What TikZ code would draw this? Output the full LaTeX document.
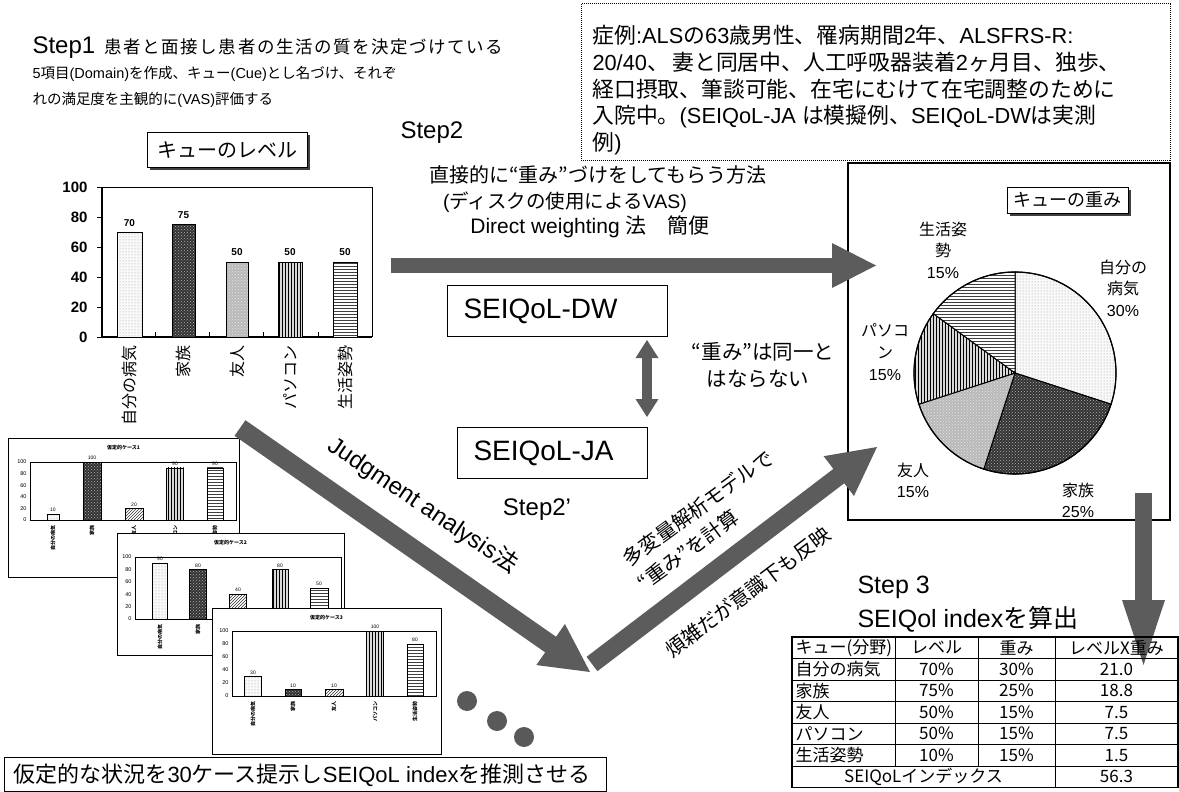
\documentclass[tikz,border=0pt]{standalone}
\usepackage{fontspec}
\setmainfont{Noto Sans CJK JP}
\newfontfamily\lat{Liberation Sans}
\newfontfamily\jpls[LetterSpace=9]{Noto Sans CJK JP}
\usetikzlibrary{patterns,calc}
\newcommand\fsz[2]{\fontsize{#1}{#2}\selectfont}
\tikzset{
  arrowfill/.style={color=black!64},
  fdot/.style={preaction={fill=gray!5}, pattern=dots, pattern color=gray!80},
  fdark/.style={preaction={fill=black!80}, pattern=crosshatch dots, pattern color=gray!60},
  fmid/.style={preaction={fill=gray!55}, pattern=crosshatch dots, pattern color=white!80!gray},
  fvert/.style={preaction={fill=gray!30}, pattern=vertical lines, pattern color=black},
  fhor/.style={preaction={fill=white}, pattern=horizontal lines, pattern color=black!75},
  fhatch/.style={preaction={fill=white}, pattern=north east lines, pattern color=black!80},
  fwhite/.style={fill=white},
}
\newcommand\fatarrow[5]{%
  \coordinate (fab) at ($(#2)!#5!(#1)$);
  \fill[arrowfill] (#2) -- ($(fab)!#4!90:(#2)$) -- ($(fab)!#4!-90:(#2)$) -- cycle;
  \draw[arrowfill, line width=#3] (#1) -- ($(fab)!-1pt!(#1)$);
}
\newcommand\mframe[9]{%
  \fill[white] (#1,#2) rectangle (#3,#4);
  \draw[line width=0.9pt] (#1,#2) rectangle (#3,#4);
  \draw[line width=0.5pt] (#5,#6) rectangle (#7,#8);
  \node[font=\fsz{5}{6}\bfseries, inner sep=0] at ({(#1+#3)/2},{#2+10}) {#9};
  \foreach \v in {0,20,...,100}
    \node[anchor=east,font=\lat\fsz{5.5}{6},inner sep=0] at ({#5-3},{#8-(#8-#6)*\v/100}) {\v};
}
\newcommand\mbar[6]{%
  \draw[#5,line width=0.6pt] ({#1-#2},#3) rectangle ({#1+#2},{#3-(#3-#4)*#6/100});
  \node[font=\lat\fsz{5}{6},inner sep=0] at (#1,{#3-(#3-#4)*#6/100-4}) {#6};
}
\newcommand\mcats[6]{%
  \foreach \xx/\tt in {#1/自分の病気,#2/家族,#3/友人,#4/パソコン,#5/生活姿勢}
    \node[rotate=90,anchor=east,font=\fsz{5}{6}\bfseries,inner sep=0] at (\xx,#6) {\tt};
}
\begin{document}
\begin{tikzpicture}[x=1pt,y=-1pt,line width=1pt]
\useasboundingbox (0,0) rectangle (1179,792);

% ---------- Step 1 ----------
\node[anchor=base west,inner sep=0] (s1) at (32,54) {\lat\fsz{24}{28}Step1};
\node[anchor=base west,inner sep=0] (s1a) at (104,54) {\jpls\fsz{17.5}{20}患者と面接し患者の生活の質を決定づけている};
\node[anchor=base west,inner sep=0] (s1b) at (32,79) {\fsz{14.5}{17}{\lat 5}項目{\lat (Domain)}を作成、キュー{\lat (Cue)}とし名づけ、それぞ};
\node[anchor=base west,inner sep=0] (s1c) at (32,104) {\fsz{14.5}{17}れの満足度を主観的に{\lat (VAS)}評価する};

% ---------- bar chart ----------
\fill[black!75] (150,135) rectangle (310,170);
\node[draw,fill=white,minimum width=160pt,minimum height=35pt,inner sep=0,font=\fsz{20}{24}] (lvl) at (227,150) {キューのレベル};
\draw (102,187) -- (372,187) -- (372,337);
\draw[line width=1.6pt] (102,187) -- (102,337) -- (372,337);
\foreach \v in {0,20,...,100} {
  \draw (97,{337-1.5*\v}) -- (102,{337-1.5*\v});
  \node[anchor=east,font=\lat\bfseries\fsz{15}{18},inner sep=0] (yl\v) at (88,{337-1.5*\v}) {\v};
}
\foreach \xx in {155,209,263,318} \draw (\xx,337) -- (\xx,332);
\draw[fdot] (117,232) rectangle (142,337);
\draw[fdark] (172,224.5) rectangle (195,337);
\draw[fmid] (226,262) rectangle (248,337);
\draw[fvert] (278,262) rectangle (302,337);
\draw[fhor] (333,262) rectangle (357,337);
\foreach \xx/\yy/\vv [count=\i] in {129.5/223/70,183.5/215/75,237/252/50,290/252/50,345/252/50}
  \node[font=\lat\bfseries\fsz{10}{12},inner sep=0] (bv\i) at (\xx,\yy) {\vv};
\foreach \xx/\tt [count=\i] in {129.5/自分の病気,183.5/家族,237/友人,290/パソコン,345/生活姿勢}
  \node[rotate=90,anchor=east,font=\fsz{16}{18},inner sep=0] (cat\i) at (\xx,345) {\tt};

% ---------- case box ----------
\draw[dash pattern=on 1pt off 1pt, line width=1pt] (581,4) rectangle (1170,160);
\node[anchor=north west,align=left,inner sep=0pt,font=\fsz{21.8}{26.7}] (case) at (592,25) {症例{\lat :ALS}の{\lat 63}歳男性、罹病期間{\lat 2}年、{\lat ALSFRS-R:}\\{\lat 20/40}、\,妻と同居中、人工呼吸器装着{\lat 2}ヶ月目、独歩、\\経口摂取、筆談可能、在宅にむけて在宅調整のために\\入院中。{\lat (SEIQoL-JA }は模擬例、{\lat SEIQoL-DW}は実測\\例{\lat )}};

% ---------- Step 2 ----------
\node[anchor=base west,inner sep=0] (s2) at (400,138) {\lat\fsz{24}{28}Step2};
\node[inner sep=0] (dw1) at (598,175) {\fsz{20}{22}直接的に“重み”づけをしてもらう方法};
\node[inner sep=0] (dw2) at (565,202) {\fsz{19.5}{22}{\lat (}ディスクの使用による{\lat VAS)}};
\node[inner sep=0] (dw3) at (590,227) {\fsz{21}{23}{\lat Direct weighting }法\quad 簡便};

\node[draw,minimum width=220pt,minimum height=51pt,inner sep=0] (dwbox) at (557,310.5) {};
\node[anchor=west,inner sep=0,font=\lat\fsz{28}{32}] (dwt) at (463,311) {SEIQoL-DW};
\node[draw,minimum width=190pt,minimum height=51pt,inner sep=0] (jabox) at (552,452.5) {};
\node[anchor=west,inner sep=0,font=\lat\fsz{28}{32}] (jat) at (473,453) {SEIQoL-JA};
\node[inner sep=0,font=\lat\fsz{24}{28}] (s2p) at (537,510) {Step2’};
\node[inner sep=0,font=\fsz{20.5}{24}] (nd1) at (763,352) {“重み”は同一と};
\node[inner sep=0,font=\fsz{20.5}{24}] (nd2) at (758,379) {はならない};

% ---------- pie chart ----------
\draw[line width=1.2pt] (848,163) rectangle (1170,520);
\coordinate (pc) at (1015,373);
\draw[fdot] (pc) -- +(-90:101) arc[start angle=-90,end angle=18,radius=101] -- cycle;
\draw[fdark] (pc) -- +(18:101) arc[start angle=18,end angle=108,radius=101] -- cycle;
\draw[fmid] (pc) -- +(108:101) arc[start angle=108,end angle=162,radius=101] -- cycle;
\draw[fvert] (pc) -- +(162:101) arc[start angle=162,end angle=216,radius=101] -- cycle;
\draw[fhor] (pc) -- +(216:101) arc[start angle=216,end angle=270,radius=101] -- cycle;
\draw[line width=1.2pt] (pc) circle[radius=101];
\fill[black!75] (1010,190) rectangle (1131,216);
\node[draw,fill=white,minimum width=121pt,minimum height=26pt,inner sep=0,font=\fsz{18}{22}] (wgt) at (1067.5,200) {キューの重み};
\node[align=center,inner sep=0,font=\fsz{16}{21.5}] (pl5) at (943,250) {生活姿\\勢\\{\lat 15\%}};
\node[align=center,inner sep=0,font=\fsz{16}{21.5}] (pl1) at (1123,288) {自分の\\病気\\{\lat 30\%}};
\node[align=center,inner sep=0,font=\fsz{16}{22}] (pl4) at (885,352) {パソコ\\ン\\{\lat 15\%}};
\node[align=center,inner sep=0,font=\fsz{16}{21}] (pl3) at (913,480) {友人\\{\lat 15\%}};
\node[align=center,inner sep=0,font=\fsz{16}{21}] (pl2) at (1078,500) {家族\\{\lat 25\%}};

% ---------- mini charts ----------
\mframe{8}{438}{239}{577}{30}{462}{236}{520}{仮定的ケース1}
\mbar{53}{6}{520}{462}{fdot}{10}
\mbar{92}{9}{520}{462}{fdark}{100}
\mbar{134}{9}{520}{462}{fhatch}{20}
\mbar{175}{8.5}{520}{462}{fvert}{90}
\mbar{215}{8}{520}{462}{fhor}{90}
\mcats{53}{92}{134}{175}{215}{525}
\mframe{117}{533}{344}{655}{135}{557}{341}{619}{仮定的ケース2}
\mbar{160}{7.5}{619}{557}{fdot}{90}
\mbar{198}{8.5}{619}{557}{fdark}{80}
\mbar{238}{8.5}{619}{557}{fhatch}{40}
\mbar{280}{8}{619}{557}{fvert}{80}
\mbar{319}{9}{619}{557}{fhor}{50}
\mcats{160}{198}{238}{280}{319}{624}
\mframe{212}{608}{441}{754}{232}{631}{436}{696}{仮定的ケース3}
\mbar{253}{8.5}{696}{631}{fdot}{30}
\mbar{293}{8}{696}{631}{fdark}{10}
\mbar{334}{9}{696}{631}{fhatch}{10}
\mbar{375}{8.5}{696}{631}{fvert}{100}
\mbar{415}{8}{696}{631}{fhor}{80}
\mcats{253}{293}{334}{375}{415}{701}
\fill[black!65] (467,701) circle[radius=10pt];
\fill[black!65] (497,721) circle[radius=10pt];
\fill[black!65] (524,737) circle[radius=10pt];
\node[draw,line width=1.2pt,minimum width=602pt,minimum height=34pt,inner sep=0,anchor=north west] (blbox) at (4,757) {};
\node[anchor=west,inner sep=0,font=\fsz{22}{24}] (blt) at (13,775) {仮定的な状況を{\lat 30}ケース提示し{\lat SEIQoL index}を推測させる};

% ---------- arrows ----------
\coordinate (ha) at (391,265.5); \coordinate (hb) at (876,265.5);
\fatarrow{ha}{hb}{15pt}{22.5pt}{44pt}
\coordinate (dam) at (647,378.5); \coordinate (da1) at (647,340); \coordinate (da2) at (647,417);
\fatarrow{dam}{da1}{10pt}{11.5pt}{18pt}
\fatarrow{dam}{da2}{10pt}{11.5pt}{18pt}
\coordinate (ja) at (240,428); \coordinate (jb) at (590,672);
\fatarrow{ja}{jb}{19pt}{25pt}{48pt}
\coordinate (ua) at (592,664); \coordinate (ub) at (877,447);
\fatarrow{ua}{ub}{18pt}{25pt}{48pt}
\coordinate (va) at (1143.5,493); \coordinate (vb) at (1143.5,665);
\fatarrow{va}{vb}{17pt}{21.5pt}{65pt}

% ---------- rotated labels ----------
\node[rotate=-34,inner sep=0,font=\lat\fsz{24}{28}] (jt) at (423,505) {Judgment analysis{\normalfont 法}};
\node[rotate=36,inner sep=0,font=\fsz{20}{24}] (mv1) at (698,508) {多変量解析モデルで};
\node[rotate=36,inner sep=0,font=\fsz{20}{24}] (mv2) at (688,550) {“重み”を計算};
\node[rotate=37,inner sep=0,font=\fsz{20}{24}] (hz) at (748,592) {煩雑だが意識下も反映};

% ---------- Step 3 & table ----------
\node[anchor=west,inner sep=0,font=\lat\fsz{25}{28}] (s3) at (857,587) {Step 3};
\node[anchor=west,inner sep=0,font=\fsz{25}{28}] (s3b) at (857,619) {{\lat SEIQol index}を算出};
\draw[line width=1.6pt] (792,637) rectangle (1178,787.5);
\foreach \i in {1,...,6} \draw[line width=0.9pt] (792,{637+21.5*\i}) -- (1178,{637+21.5*\i});
\draw[line width=0.9pt] (895,637) -- (895,766) (978,637) -- (978,766) (1055,637) -- (1055,787.5);
\foreach \a/\b/\c/\d [count=\i from 0] in {キュー(分野)/レベル/重み/レベルX重み,自分の病気/70\%/30\%/21.0,家族/75\%/25\%/18.8,友人/50\%/15\%/7.5,パソコン/50\%/15\%/7.5,生活姿勢/10\%/15\%/1.5} {
  \node[anchor=west,inner sep=0,font=\fsz{17}{20}] (ta\i) at (795,{647.75+21.5*\i}) {\a};
  \node[inner sep=0,font=\fsz{17}{20}] (tb\i) at (936.5,{647.75+21.5*\i}) {\b};
  \node[inner sep=0,font=\fsz{17}{20}] (tc\i) at (1016.5,{647.75+21.5*\i}) {\c};
  \node[inner sep=0,font=\fsz{17}{20}] (td\i) at (1116.5,{647.75+21.5*\i}) {\d};
}
\node[inner sep=0,font=\fsz{17}{20}] (tl) at (923.5,776.75) {SEIQoLインデックス};
\node[inner sep=0,font=\fsz{17}{20}] (tv) at (1116.5,776.75) {56.3};
\end{tikzpicture}
\end{document}
